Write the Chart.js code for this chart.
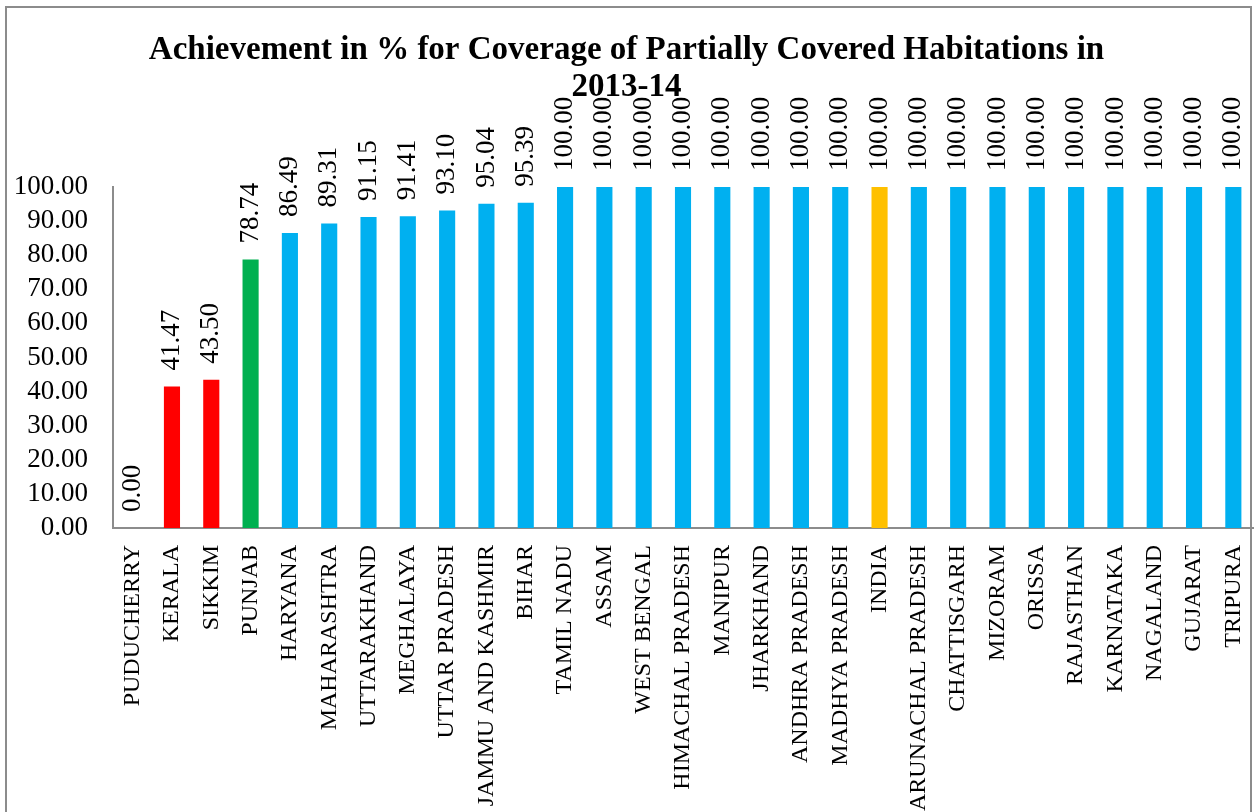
<!DOCTYPE html>
<html>
<head>
<meta charset="utf-8">
<script src="https://cdn.jsdelivr.net/npm/chart.js@4"></script>
<style>
  html, body { margin: 0; padding: 0; background: #fff; overflow: hidden; }
  #wrap { width: 1255px; height: 812px; }
</style>
</head>
<body>
<div id="wrap"><canvas id="coverChart"></canvas></div>
<script>
const states = ['PUDUCHERRY', 'KERALA', 'SIKKIM', 'PUNJAB', 'HARYANA', 'MAHARASHTRA', 'UTTARAKHAND',
  'MEGHALAYA', 'UTTAR PRADESH', 'JAMMU AND KASHMIR', 'BIHAR', 'TAMIL NADU', 'ASSAM', 'WEST BENGAL',
  'HIMACHAL PRADESH', 'MANIPUR', 'JHARKHAND', 'ANDHRA PRADESH', 'MADHYA PRADESH', 'INDIA',
  'ARUNACHAL PRADESH', 'CHATTISGARH', 'MIZORAM', 'ORISSA', 'RAJASTHAN', 'KARNATAKA', 'NAGALAND',
  'GUJARAT', 'TRIPURA'];
const achievement = [0.00, 41.47, 43.50, 78.74, 86.49, 89.31, 91.15, 91.41, 93.10, 95.04, 95.39,
  100, 100, 100, 100, 100, 100, 100, 100, 100, 100, 100, 100, 100, 100, 100, 100, 100, 100];
const yTicks = [0, 10, 20, 30, 40, 50, 60, 70, 80, 90, 100];
const titleLines = ['Achievement in % for Coverage of Partially Covered Habitations in', '2013-14'];

const highlight = { KERALA: '#FF0000', SIKKIM: '#FF0000', PUNJAB: '#00B050', INDIA: '#FFC000' };
const barColors = states.map(s => highlight[s] || '#00B0F0');
const serif = "'Liberation Serif', 'DejaVu Serif', serif";

// frame round the whole chart, like the spreadsheet chart area
const framePlugin = {
    id: 'frame',
    beforeDraw(chart) {
        const ctx = chart.ctx;
        ctx.save();
        ctx.strokeStyle = '#8c8c8c';
        ctx.lineWidth = 2;
        ctx.strokeRect(6, 7, 1245, 830);
        ctx.restore();
    }
};

// vertical value labels above each bar
const valueLabels = {
    id: 'valueLabels',
    afterDatasetsDraw(chart) {
        const ctx = chart.ctx;
        const meta = chart.getDatasetMeta(0);
        ctx.save();
        ctx.font = '27px ' + serif;
        ctx.fillStyle = '#000';
        ctx.textAlign = 'left';
        ctx.textBaseline = 'middle';
        meta.data.forEach((bar, i) => {
            ctx.save();
            ctx.translate(bar.x, bar.y - 16);
            ctx.rotate(-Math.PI / 2);
            ctx.fillText(achievement[i].toFixed(2), 0, 0);
            ctx.restore();
        });
        ctx.restore();
    }
};

new Chart(document.getElementById('coverChart'), {
    type: 'bar',
    data: {
        labels: states,
        datasets: [{
            data: achievement,
            backgroundColor: barColors,
            barPercentage: 0.41,
            categoryPercentage: 1.0,
        }],
    },
    options: {
        responsive: true,
        maintainAspectRatio: false,
        animation: false,
        layout: { padding: { left: 0, right: 2, top: 0, bottom: 0 } },
        plugins: {
            legend: { display: false },
            tooltip: { enabled: false },
            title: {
                display: true,
                text: titleLines,
                color: '#000',
                font: { family: serif, size: 33, weight: 'bold', lineHeight: 1.12 },
                padding: { top: 32, bottom: 81 },
            },
        },
        scales: {
            x: {
                grid: { display: false, drawTicks: false, tickLength: 0 },
                border: { display: true, color: '#8c8c8c', width: 2 },
                ticks: {
                    autoSkip: false,
                    minRotation: 90,
                    maxRotation: 90,
                    padding: 17,
                    color: '#000',
                    font: { family: serif, size: 24 },
                },
                afterFit: s => { s.height = 284; s.paddingLeft = 0; s.paddingRight = 0; },
            },
            y: {
                min: 0,
                max: 100,
                afterBuildTicks: s => { s.ticks = yTicks.map(v => ({ value: v })); },
                grid: { display: false, drawTicks: false, tickLength: 0 },
                border: { display: true, color: '#8c8c8c', width: 2 },
                ticks: {
                    autoSkip: false,
                    padding: 25,
                    color: '#000',
                    font: { family: serif, size: 27 },
                    callback: v => v.toFixed(2),
                },
                afterFit: s => { s.width = 113; },
            },
        },
    },
    plugins: [framePlugin, valueLabels],
});
</script>
</body>
</html>
